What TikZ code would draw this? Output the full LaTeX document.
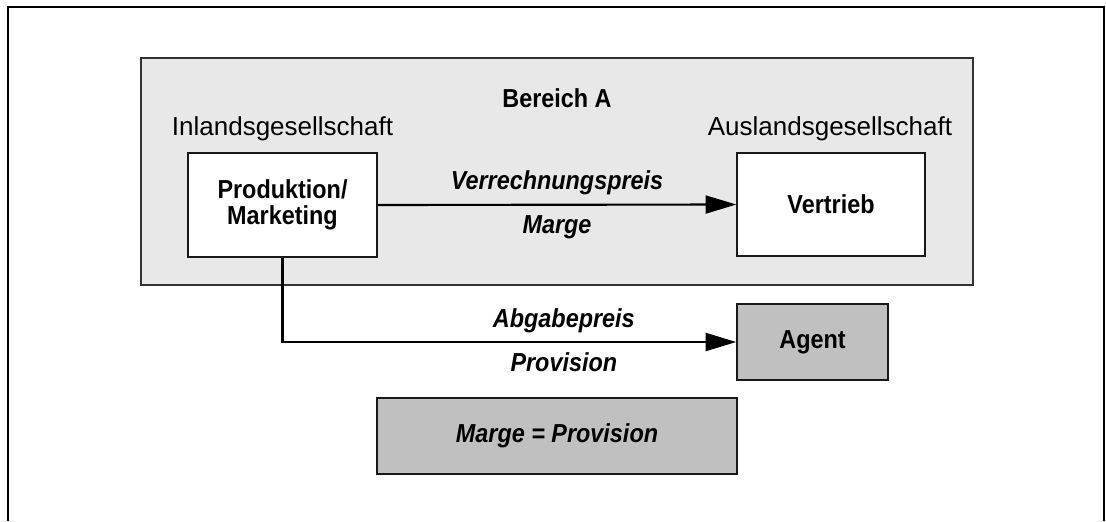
\documentclass[tikz,border=0pt]{standalone}
\usepackage{fontspec}
\setmainfont{Liberation Sans}[BoldFeatures={FakeStretch=0.9},BoldItalicFeatures={FakeStretch=0.9}]
\usepackage{tikz}
\usetikzlibrary{arrows.meta,positioning,calc}
\definecolor{areagray}{HTML}{E8E8E8}
\definecolor{boxgray}{HTML}{C0C0C0}
\tikzset{>={Triangle[length=23pt,width=13.5pt]},
	area/.style={rectangle,draw=black!80,line width=1.1pt,fill=areagray,inner sep=0pt},
	wbox/.style={rectangle,draw=black!90,line width=1.1pt,fill=white,inner sep=0pt,align=center,font=\fontsize{19.5}{19.5}\selectfont\bfseries},
	gbox/.style={wbox,fill=boxgray},
	ttl/.style={inner sep=0pt,anchor=base,font=\fontsize{19.5}{20}\selectfont},
	lbl/.style={inner sep=0pt,anchor=base,font=\fontsize{19.5}{20}\selectfont\bfseries\itshape},
	flow/.style={line width=1.6pt}}

\begin{document}
\begin{tikzpicture}[x=0.75pt,y=-0.75pt]
		\useasboundingbox (0,0) rectangle (1106,521);
		\draw [line width=1.4pt] (8,521) -- (8,7) -- (1104,7) -- (1104,521);
		\node (A) at (557,171.5) [area,minimum width=624pt,minimum height=170.25pt] {};
		\node (bA) at (557,107) [ttl] {\bfseries Bereich A};
		\node (P) at (282.5,205) [wbox,minimum width=141.75pt,minimum height=78pt] {Produktion/\\Marketing};
		\node (V) at (831,204.5) [wbox,minimum width=141pt,minimum height=77.25pt] {Vertrieb};
		\node (Ag) at (812.5,342) [gbox,minimum width=113.25pt,minimum height=57pt] {Agent};
		\node (MP) at (557,436) [gbox,minimum width=270pt,minimum height=57pt,font=\fontsize{19.5}{19.5}\selectfont\bfseries\itshape] {Marge = Provision};
		\node (iG) at (282.5,135) [ttl] {Inlandsgesellschaft};
		\node (aG) at (830,135) [ttl] {Auslandsgesellschaft};
		\draw [flow,->] (P.east) -- node[lbl,yshift=11.25pt]{Verrechnungspreis} node[lbl,yshift=-21.75pt]{Marge} (V.west);
		\draw [flow,->] (P.south) |- node[lbl,yshift=11.25pt,pos=0.81]{Abgabepreis} node[lbl,yshift=-21.75pt,pos=0.81]{Provision} (Ag.west);
\end{tikzpicture}
\end{document}
